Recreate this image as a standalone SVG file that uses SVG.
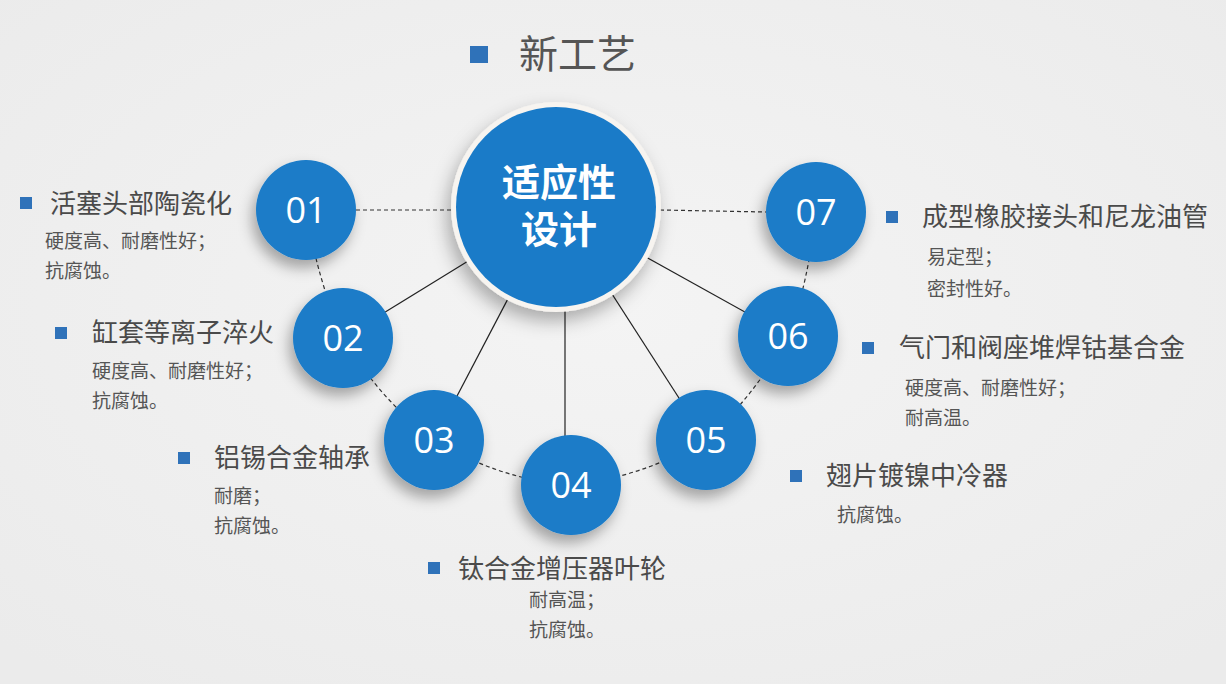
<svg xmlns="http://www.w3.org/2000/svg" width="1226" height="684" viewBox="0 0 1226 684">
<defs>
<radialGradient id="bg" cx="50%" cy="45%" r="70%">
<stop offset="0" stop-color="#f4f4f4"/>
<stop offset="1" stop-color="#ebebeb"/>
</radialGradient>
<filter id="sh" x="-40%" y="-40%" width="180%" height="180%">
<feDropShadow dx="-4" dy="8" stdDeviation="7" flood-color="#000" flood-opacity="0.32"/>
</filter>
<filter id="shc" x="-30%" y="-30%" width="160%" height="160%">
<feDropShadow dx="-4" dy="9" stdDeviation="9" flood-color="#000" flood-opacity="0.3"/>
</filter>
<style>
.num{font-family:"Open Sans","Noto Sans",sans-serif;font-size:36px;fill:#fff;text-anchor:middle}
.ttl{font-family:"Noto Sans CJK SC",sans-serif;font-size:26px;fill:#4a4a4a}
.sub{font-family:"Noto Sans CJK SC",sans-serif;font-size:19px;fill:#555}
.blt{fill:#2f72b9}
.circ{fill:#1a7bc8}
.dash{stroke:#333;stroke-width:1.2;stroke-dasharray:4 3;fill:none}
.solid{stroke:#222;stroke-width:1.2;fill:none}
.ctr{font-family:"Noto Sans CJK SC",sans-serif;font-size:38px;font-weight:bold;fill:#fff;text-anchor:middle}
</style>
</defs>
<rect width="1226" height="684" fill="url(#bg)"/>

<g id="title">
<rect class="blt" x="470" y="46" width="18" height="17"/>
<text x="519" y="68" font-family="Noto Sans CJK SC, sans-serif" font-size="39" fill="#555">新工艺</text>
</g>

<g id="connectors">
<line class="dash" x1="356" y1="210" x2="452" y2="210"/>
<line class="dash" x1="660" y1="210" x2="766" y2="212"/>
<path class="dash" d="M306,210 Q318,282 343,338 Q380,400 434,440 Q500,480 571,485 Q640,478 706,440 Q755,395 788,336 Q808,285 816,212"/>
<line class="solid" x1="556" y1="207" x2="343" y2="338"/>
<line class="solid" x1="556" y1="207" x2="434" y2="440"/>
<line class="solid" x1="565" y1="207" x2="565" y2="485"/>
<line class="solid" x1="556" y1="207" x2="706" y2="440"/>
<line class="solid" x1="556" y1="207" x2="788" y2="336"/>
</g>

<g id="n01"><circle class="circ" cx="306" cy="210" r="50" filter="url(#sh)"/><text class="num" x="306" y="223">01</text></g>
<g id="n02"><circle class="circ" cx="343" cy="338" r="50" filter="url(#sh)"/><text class="num" x="343" y="351">02</text></g>
<g id="n03"><circle class="circ" cx="434" cy="440" r="50" filter="url(#sh)"/><text class="num" x="434" y="453">03</text></g>
<g id="n04"><circle class="circ" cx="571" cy="485" r="50" filter="url(#sh)"/><text class="num" x="571" y="498">04</text></g>
<g id="n05"><circle class="circ" cx="706" cy="440" r="50" filter="url(#sh)"/><text class="num" x="706" y="453">05</text></g>
<g id="n06"><circle class="circ" cx="788" cy="336" r="50" filter="url(#sh)"/><text class="num" x="788" y="349">06</text></g>
<g id="n07"><circle class="circ" cx="816" cy="212" r="50" filter="url(#sh)"/><text class="num" x="816" y="225">07</text></g>

<g id="center">
<circle cx="556" cy="207" r="105" fill="#f7f4f0" filter="url(#shc)"/>
<circle class="circ" cx="556" cy="207" r="100"/>
<text class="ctr"><tspan x="559" y="196">适应性</tspan><tspan x="559" y="243">设计</tspan></text>
</g>

<g id="label01">
<rect class="blt" x="20" y="197" width="12" height="12"/>
<text class="ttl" x="50" y="213">活塞头部陶瓷化</text>
<text class="sub" x="45" y="248">硬度高、耐磨性好；</text>
<text class="sub" x="45" y="278">抗腐蚀。</text>
</g>
<g id="label02">
<rect class="blt" x="55" y="327" width="12" height="12"/>
<text class="ttl" x="92" y="342">缸套等离子淬火</text>
<text class="sub" x="92" y="378">硬度高、耐磨性好；</text>
<text class="sub" x="92" y="408">抗腐蚀。</text>
</g>
<g id="label03">
<rect class="blt" x="178" y="452" width="12" height="12"/>
<text class="ttl" x="214" y="467">铝锡合金轴承</text>
<text class="sub" x="214" y="503">耐磨；</text>
<text class="sub" x="214" y="533">抗腐蚀。</text>
</g>
<g id="label04">
<rect class="blt" x="428" y="562" width="12" height="12"/>
<text class="ttl" x="458" y="578">钛合金增压器叶轮</text>
<text class="sub" x="529" y="607">耐高温；</text>
<text class="sub" x="529" y="637">抗腐蚀。</text>
</g>
<g id="label05">
<rect class="blt" x="790" y="470" width="12" height="12"/>
<text class="ttl" x="826" y="485">翅片镀镍中冷器</text>
<text class="sub" x="837" y="522">抗腐蚀。</text>
</g>
<g id="label06">
<rect class="blt" x="862" y="342" width="12" height="12"/>
<text class="ttl" x="899" y="357">气门和阀座堆焊钴基合金</text>
<text class="sub" x="905" y="395">硬度高、耐磨性好；</text>
<text class="sub" x="905" y="425">耐高温。</text>
</g>
<g id="label07">
<rect class="blt" x="886" y="211" width="12" height="12"/>
<text class="ttl" x="922" y="226">成型橡胶接头和尼龙油管</text>
<text class="sub" x="927" y="264">易定型；</text>
<text class="sub" x="927" y="296">密封性好。</text>
</g>
</svg>
